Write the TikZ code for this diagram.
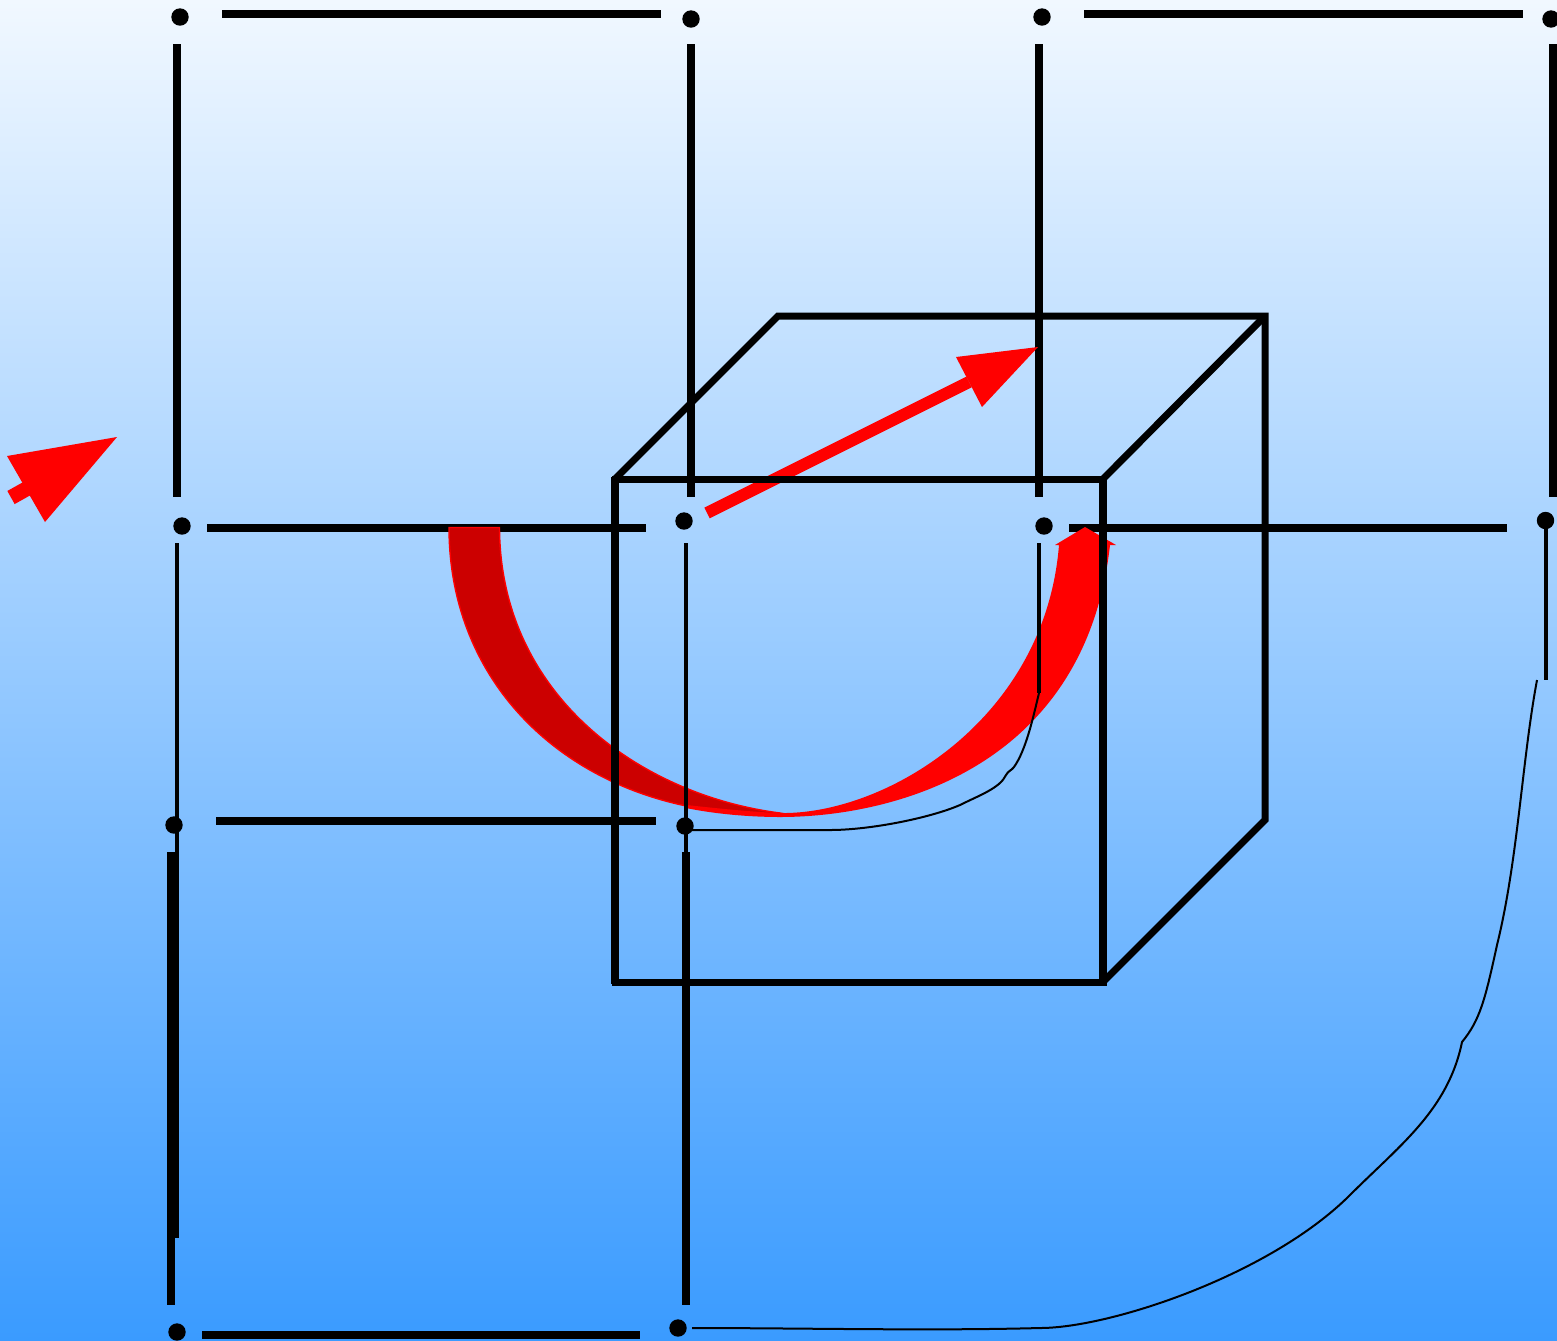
\documentclass[tikz,border=0pt]{standalone}
\definecolor{bgtop}{HTML}{F1F8FF}
\definecolor{bgbot}{HTML}{3A9BFF}
\definecolor{darkred}{HTML}{CC0000}
\tikzset{
  x=0.5pt,y=-0.5pt,
  dot/.style={circle,fill=black,inner sep=0pt,minimum size=8.7pt},
  heavy/.style={draw=black,line width=4pt},
  medium/.style={draw=black,line width=2pt},
  hair/.style={draw=black,line width=1pt},
  cube/.style={draw=black,line width=3.5pt,line join=miter},
  cubeb/.style={draw=black,line width=4pt},
  redfill/.style={fill=red,draw=none},
}
\begin{document}
\begin{tikzpicture}
\useasboundingbox (0,0) rectangle (1557,1340);
\shade[top color=bgtop,bottom color=bgbot] (0,0) rectangle (1557,1340);
% dots
\node[dot] (a1) at (180,17) {};
\node[dot] (a2) at (691,19) {};
\node[dot] (a3) at (1042,17) {};
\node[dot] (a4) at (1551,19) {};
\node[dot] (b1) at (182,526) {};
\node[dot] (b2) at (684,521) {};
\node[dot] (b3) at (1044,526) {};
\node[dot] (b4) at (1545.5,520.5) {};
\node[dot] (c1) at (174,825) {};
\node[dot] (c2) at (685,826) {};
\node[dot] (d1) at (177,1332) {};
\node[dot] (d2) at (678,1328) {};
% end points
\coordinate (h1s) at (222,14); \coordinate (h1e) at (661,14);
\coordinate (h2s) at (1084,14); \coordinate (h2e) at (1523,14);
\coordinate (h3s) at (207,528); \coordinate (h3e) at (646,528);
\coordinate (h4s) at (1069,528); \coordinate (h4e) at (1507,528);
\coordinate (h5s) at (216,821); \coordinate (h5e) at (656,821);
\coordinate (h6s) at (202,1335); \coordinate (h6e) at (640,1335);
\coordinate (v1s) at (177,44); \coordinate (v1e) at (177,497);
\coordinate (v2s) at (691,44); \coordinate (v2e) at (691,497);
\coordinate (v3s) at (1039,44); \coordinate (v3e) at (1039,497);
\coordinate (v4s) at (1553,44); \coordinate (v4e) at (1553,497);
\coordinate (t1s) at (177,543); \coordinate (t1e) at (177,1238);
\coordinate (t2s) at (686,543); \coordinate (t2e) at (686,852);
\coordinate (t3s) at (1039,543); \coordinate (t3e) at (1039,693);
\coordinate (t4s) at (1545.5,528); \coordinate (t4e) at (1545.5,680);
\coordinate (w1s) at (171,852); \coordinate (w1e) at (171,1305);
\coordinate (w2s) at (685.5,852); \coordinate (w2e) at (685.5,1305);
\coordinate (q4) at (1537,680);
% black grid
\draw[heavy] (h1s) -- (h1e);
\draw[heavy] (h2s) -- (h2e);
\draw[heavy] (h3s) -- (h3e);
\draw[heavy] (h4s) -- (h4e);
\draw[heavy] (h5s) -- (h5e);
\draw[heavy] (h6s) -- (h6e);
\draw[heavy] (v1s) -- (v1e);
\draw[heavy] (v2s) -- (v2e);
\draw[heavy] (v3s) -- (v3e);
\draw[heavy] (v4s) -- (v4e);
\draw[heavy] (w1s) -- (w1e);
\draw[heavy] (w2s) -- (w2e);
% red curved arrow
\path[fill=darkred,draw=red,line width=0.7pt] (449,527.5) .. controls (449,700) and (590,816) .. (770,814)
  .. controls (760,814) and (790,814) .. (780,813)
  .. controls (640,795) and (500,695) .. (499.5,527.5) -- cycle;
\path[redfill] (780,817) .. controls (890,817) and (1085,770) .. (1110,545)
  -- (1116,545) -- (1085,527) -- (1055,545) -- (1059,545)
  .. controls (1045,720) and (885,815) .. (780,813) -- cycle;
\path[redfill] (686,808) .. controls (715,814) and (750,817) .. (780,817) -- (780,813)
  .. controls (750,812) and (715,808) .. (686,805) -- cycle;
% red arrows
\coordinate (ra1) at (707,513); \coordinate (ra2) at (969,382);
\coordinate (rb1) at (11,497.5); \coordinate (rb2) at (28,488);
\draw[red,line width=6pt] (ra1) -- (ra2);
\path[redfill] (1038,347) -- (956,357) -- (982,407) -- cycle;
\draw[red,line width=7.5pt] (rb1) -- (rb2);
\path[redfill] (117,437) -- (7,456) -- (45,522) -- cycle;
% cube
\draw[cube] (615,479) -- (778,316) -- (1265,316) -- (1265,820) -- (1103,982);
\draw[cube] (1265,316) -- (1103,479);
\draw[cube] (615,479) rectangle (1103,982);
\draw[cubeb] (615,477) -- (615,984);
\draw[cubeb] (1103,477) -- (1103,984);
% thin verticals
\draw[medium] (t1s) -- (t1e);
\draw[medium] (t2s) -- (t2e);
\draw[medium] (t3s) -- (t3e);
\draw[medium] (t4s) -- (t4e);
% hair curves
\draw[hair] (c2) ++(7,4) -- (830,830) .. controls (870,830) and (930,818) .. (960,805)
  .. controls (980,795) and (1000,788) .. (1006,775) .. controls (1008,771) and (1012,770) .. (1014,767)
  .. controls (1026,750) and (1033,718) .. (t3e);
\draw[hair] (q4) .. controls (1522,760) and (1518,860) .. (1497,945)
  .. controls (1485,1000) and (1480,1020) .. (1462,1042)
  .. controls (1448,1110) and (1400,1145) .. (1350,1195)
  .. controls (1270,1275) and (1110,1328) .. (1040,1328)
  .. controls (930,1331) and (800,1328) .. (692,1328);
\end{tikzpicture}
\end{document}
